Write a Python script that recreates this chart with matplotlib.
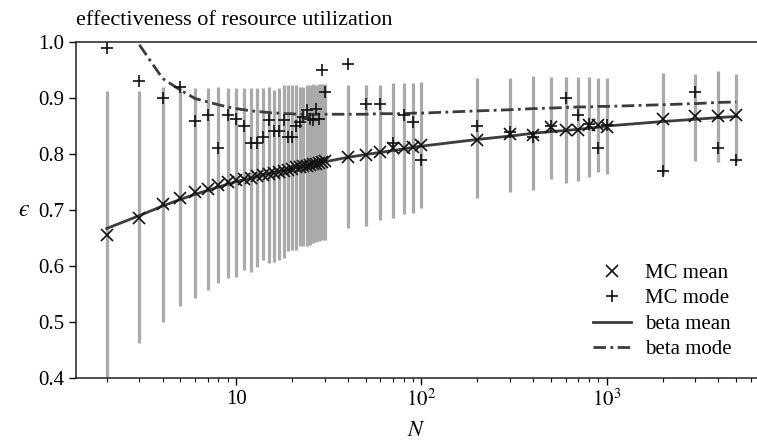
import numpy as np
import matplotlib
matplotlib.use("Agg")
import matplotlib.pyplot as plt

# ---------------- data ----------------
N = [2, 3, 4, 5, 6, 7, 8, 9, 10, 11, 12, 13, 14, 15, 16, 17, 18, 19, 20,
     21, 22, 23, 24, 25, 26, 27, 28, 29, 30,
     40, 50, 60, 70, 80, 90, 100,
     200, 300, 400, 500, 600, 700, 800, 900, 1000,
     2000, 3000, 4000, 5000]

mc_mean = [0.655, 0.686, 0.711, 0.722, 0.732, 0.737, 0.745, 0.750, 0.753,
           0.755, 0.757, 0.760, 0.762, 0.764, 0.766, 0.767, 0.770, 0.772, 0.773,
           0.776, 0.776, 0.778, 0.779, 0.781, 0.782, 0.783, 0.784, 0.785, 0.787,
           0.795, 0.798, 0.804, 0.810, 0.810, 0.812, 0.816,
           0.825, 0.835, 0.834, 0.848, 0.842, 0.843, 0.851, 0.851, 0.849,
           0.862, 0.867, 0.867, 0.870]

mc_mode = [0.990, 0.930, 0.900, 0.920, 0.859, 0.870, 0.810, 0.870, 0.862,
           0.850, 0.819, 0.819, 0.831, 0.861, 0.841, 0.841, 0.861, 0.831, 0.830,
           0.850, 0.858, 0.866, 0.878, 0.862, 0.860, 0.880, 0.862, 0.950, 0.910,
           0.960, 0.889, 0.889, 0.819, 0.870, 0.858, 0.789,
           0.850, 0.840, 0.831, 0.850, 0.900, 0.870, 0.853, 0.810, 0.851,
           0.770, 0.910, 0.810, 0.789]

bar_low = [0.390, 0.462, 0.500, 0.528, 0.542, 0.558, 0.569, 0.578, 0.580,
           0.593, 0.590, 0.599, 0.611, 0.606, 0.608, 0.611, 0.615, 0.627, 0.628,
           0.628, 0.636, 0.635, 0.636, 0.637, 0.641, 0.643, 0.645, 0.646, 0.646,
           0.668, 0.672, 0.682, 0.686, 0.693, 0.695, 0.704,
           0.721, 0.733, 0.736, 0.755, 0.748, 0.751, 0.759, 0.768, 0.764,
           0.762, 0.787, 0.785, 0.786]

bar_high = [0.913, 0.913, 0.920, 0.920, 0.918, 0.918, 0.920, 0.918, 0.918,
            0.918, 0.918, 0.917, 0.917, 0.920, 0.915, 0.918, 0.923, 0.923, 0.923,
            0.923, 0.920, 0.920, 0.924, 0.923, 0.925, 0.924, 0.925, 0.925, 0.925,
            0.923, 0.924, 0.923, 0.927, 0.926, 0.926, 0.929,
            0.935, 0.935, 0.939, 0.937, 0.938, 0.937, 0.938, 0.935, 0.936,
            0.944, 0.942, 0.948, 0.942]

beta_mean = [0.667, 0.690, 0.707, 0.719, 0.728, 0.735, 0.741, 0.746, 0.751,
             0.754, 0.757, 0.760, 0.763, 0.765, 0.767, 0.769, 0.771, 0.773, 0.774,
             0.776, 0.777, 0.778, 0.780, 0.781, 0.782, 0.783, 0.784, 0.785, 0.786,
             0.794, 0.799, 0.803, 0.806, 0.809, 0.812, 0.814,
             0.826, 0.832, 0.837, 0.840, 0.842, 0.844, 0.846, 0.848, 0.850,
             0.858, 0.862, 0.865, 0.867]

beta_mode = [np.nan, 0.995, 0.935, 0.914, 0.899, 0.893, 0.888, 0.884, 0.881,
             0.879, 0.877, 0.876, 0.875, 0.874, 0.873, 0.873, 0.872, 0.872, 0.872,
             0.871, 0.871, 0.871, 0.871, 0.871, 0.871, 0.871, 0.871, 0.871, 0.871,
             0.871, 0.871, 0.872, 0.872, 0.872, 0.873, 0.873,
             0.877, 0.879, 0.881, 0.882, 0.883, 0.884, 0.884, 0.885, 0.885,
             0.888, 0.890, 0.892, 0.893]

yticks = [0.4, 0.5, 0.6, 0.7, 0.8, 0.9, 1.0]
ytick_labels = ["0.4", "0.5", "0.6", "0.7", "0.8", "0.9", "1.0"]
xticks = [10, 100, 1000]
xtick_labels = ["10", "$10^2$", "$10^3$"]

# ---------------- style ----------------
plt.rcParams["font.family"] = ["Liberation Serif", "DejaVu Serif"]
plt.rcParams["mathtext.fontset"] = "stix"
plt.rcParams["font.size"] = 15

fig = plt.figure(figsize=(7.57, 4.40), dpi=100)
ax = fig.add_axes([76 / 757, 1 - 378 / 440, 681 / 757, 336 / 440])

ax.vlines(N, bar_low, bar_high, colors="#aaaaaa", linewidth=2.3, zorder=1)
ax.plot(N, beta_mean, color="#3c3c3c", lw=2.0, zorder=2, label="beta mean")
ax.plot(N, beta_mode, color="#3c3c3c", lw=2.0, zorder=2, label="beta mode",
        dashes=(4.5, 1.6, 1.0, 1.6))
ax.plot(N, mc_mean, linestyle="none", marker="x", ms=8, mew=1.2,
        color="#111111", zorder=3, label="MC mean")
ax.plot(N, mc_mode, linestyle="none", marker="+", ms=9, mew=1.2,
        color="#111111", zorder=3, label="MC mode")

ax.set_xscale("log")
ax.set_xlim(1.365, 6470)
ax.set_ylim(0.4, 1.0)
ax.set_yticks(yticks, ytick_labels)
ax.set_xticks(xticks, xtick_labels)
ax.tick_params(axis="both", direction="out", length=5, width=1, labelsize=15)
ax.tick_params(axis="x", which="minor", direction="out", length=3, width=0.8)

ax.spines["right"].set_visible(False)
for s in ["top", "left", "bottom"]:
    ax.spines[s].set_linewidth(1.1)
    ax.spines[s].set_color("#222222")

ax.set_xlabel("$N$", fontsize=16, labelpad=8)
ax.set_ylabel("$\u03f5$", fontsize=17, rotation=0, labelpad=10, va="center")
ax.set_title("effectiveness of resource utilization", loc="left", fontsize=16,
             pad=12)

handles, labels = ax.get_legend_handles_labels()
order = [2, 3, 0, 1]
ax.legend([handles[i] for i in order], [labels[i] for i in order],
          loc="lower right", bbox_to_anchor=(0.99, 0.0), frameon=False,
          fontsize=15, handlelength=1.85, labelspacing=0.28, handletextpad=0.65)

fig.savefig("out.png", dpi=100)
